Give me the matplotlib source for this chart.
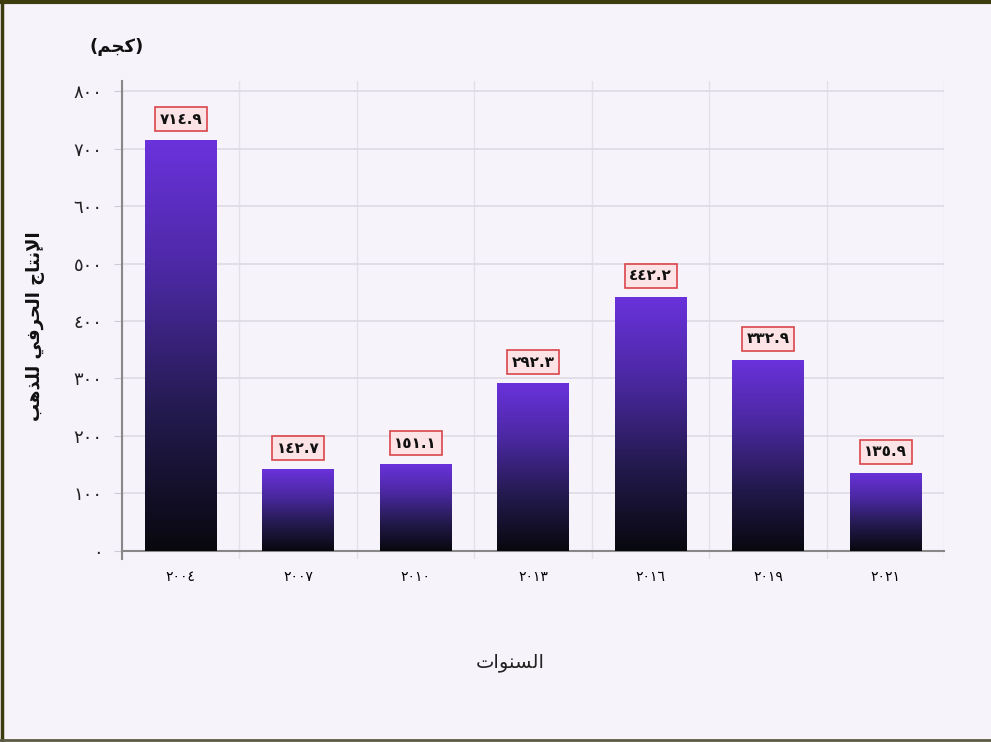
import numpy as np
import matplotlib
matplotlib.use("Agg")
import matplotlib.pyplot as plt
from matplotlib.colors import LinearSegmentedColormap
from matplotlib.lines import Line2D

# data
years = ["2004", "2007", "2010", "2013", "2016", "2019", "2021"]
values = [714.9, 142.7, 151.1, 292.3, 442.2, 332.9, 135.9]
yticks = [0, 100, 200, 300, 400, 500, 600, 700, 800]
xlabel_text = "السنوات"
ylabel_text = "الإنتاج الحرفي للذهب"
unit_text = "(كجم)"

# arabic-indic digits
DIG = str.maketrans("0123456789", "٠١٢٣٤٥٦٧٨٩")
def ar_num(s):
    return str(s).translate(DIG)

# minimal arabic shaping (presentation forms) + visual order
FORMS = {
    "ا": (0xFE8D, 0xFE8E), "إ": (0xFE87, 0xFE88), "و": (0xFEED, 0xFEEE),
    "ر": (0xFEAD, 0xFEAE), "ذ": (0xFEAB, 0xFEAC),
    "ب": (0xFE8F, 0xFE90, 0xFE91, 0xFE92), "ت": (0xFE95, 0xFE96, 0xFE97, 0xFE98),
    "ج": (0xFE9D, 0xFE9E, 0xFE9F, 0xFEA0), "ح": (0xFEA1, 0xFEA2, 0xFEA3, 0xFEA4),
    "س": (0xFEB1, 0xFEB2, 0xFEB3, 0xFEB4), "ف": (0xFED1, 0xFED2, 0xFED3, 0xFED4),
    "ك": (0xFED9, 0xFEDA, 0xFEDB, 0xFEDC), "ل": (0xFEDD, 0xFEDE, 0xFEDF, 0xFEE0),
    "م": (0xFEE1, 0xFEE2, 0xFEE3, 0xFEE4), "ن": (0xFEE5, 0xFEE6, 0xFEE7, 0xFEE8),
    "ه": (0xFEE9, 0xFEEA, 0xFEEB, 0xFEEC), "ي": (0xFEF1, 0xFEF2, 0xFEF3, 0xFEF4),
}
LAMALEF = {"ا": (0xFEFB, 0xFEFC), "إ": (0xFEF9, 0xFEFA)}

def shape(text):
    chars = list(text)
    out = []
    i = 0
    while i < len(chars):
        c = chars[i]
        if c not in FORMS:
            out.append(c)
            i += 1
            continue
        prev = chars[i - 1] if i > 0 else None
        join_prev = prev in FORMS and len(FORMS[prev]) == 4
        if c == "ل" and i + 1 < len(chars) and chars[i + 1] in LAMALEF:
            f = LAMALEF[chars[i + 1]]
            out.append(chr(f[1] if join_prev else f[0]))
            i += 2
            continue
        nxt = chars[i + 1] if i + 1 < len(chars) else None
        join_next = len(FORMS[c]) == 4 and nxt in FORMS
        f = FORMS[c]
        if join_prev and join_next:
            g = f[3]
        elif join_prev:
            g = f[1]
        elif join_next:
            g = f[2]
        else:
            g = f[0]
        out.append(chr(g))
        i += 1
    vis = out[::-1]
    mirror = {"(": ")", ")": "("}
    return "".join(mirror.get(ch, ch) for ch in vis)

bg = "#f7f3fb"
fig = plt.figure(figsize=(9.91, 7.42), dpi=100, facecolor=bg)
ax = fig.add_axes([0.123, 0.246, 0.83, 0.645])
ax.set_facecolor(bg)

x = np.arange(len(years))
bars = ax.bar(x, values, width=0.61, color="none", zorder=3)

cmap = LinearSegmentedColormap.from_list("g", ["#08080e", "#231a4e", "#4a28a0", "#6a32dc"])
grad = np.linspace(0, 1, 256).reshape(-1, 1)
for b in bars:
    x0, w, h = b.get_x(), b.get_width(), b.get_height()
    im = ax.imshow(grad, cmap=cmap, origin="lower", aspect="auto",
                   extent=[x0, x0 + w, 0, h], zorder=3)
    im.set_clip_path(b)

for xi, v in zip(x, values):
    ax.annotate(ar_num(f"{v:.1f}"), (xi, v), xytext=(0, 15), textcoords="offset points",
                ha="center", va="center", fontsize=11, fontweight="bold", color="#111111",
                bbox=dict(boxstyle="square,pad=0.3", fc="#fbe3e6", ec="#d9464a", lw=1.2),
                zorder=5)

ax.set_xlim(-0.5, len(years) - 0.5)
ax.set_ylim(-15, 818)
ax.set_yticks(yticks)
ax.set_yticklabels([ar_num(t) for t in yticks], fontsize=13, color="#222222")
ax.set_xticks(x)
ax.set_xticklabels([ar_num(y) for y in years], fontsize=13, color="#222222")
ax.set_xticks(np.arange(-0.5, len(years)), minor=True)
ax.tick_params(axis="x", which="major", length=0, pad=14)
ax.tick_params(axis="x", which="minor", length=0)
ax.tick_params(axis="y", length=6, color="#cfcad6", pad=8)

ax.grid(True, axis="y", color="#dedae3", lw=1.2, zorder=0)
ax.grid(True, axis="x", which="minor", color="#e4e0e8", lw=1.0, zorder=0)

for s in ["top", "right"]:
    ax.spines[s].set_visible(False)
ax.spines["bottom"].set_position(("data", 0))
ax.spines["bottom"].set_color("#888888")
ax.spines["bottom"].set_linewidth(1.5)
ax.spines["left"].set_color("#888888")
ax.spines["left"].set_linewidth(1.5)

fig.text(0.036, 0.56, shape(ylabel_text), rotation=90, ha="center", va="center",
         fontsize=13, fontweight="bold", color="#111111")
fig.text(0.118, 0.937, shape(unit_text), ha="center", va="center",
         fontsize=13, fontweight="bold", color="#111111")
fig.text(0.515, 0.107, shape(xlabel_text), ha="center", va="center",
         fontsize=14, color="#222222")

# frame around the picture
fig.add_artist(Line2D([0, 1], [0.997, 0.997], transform=fig.transFigure, color="#3c3c0e", lw=3))
fig.add_artist(Line2D([0.002, 0.002], [0, 1], transform=fig.transFigure, color="#3c3c0e", lw=2.5))
fig.add_artist(Line2D([0, 1], [0.003, 0.003], transform=fig.transFigure, color="#5c5c44", lw=2))

fig.savefig("out.png", dpi=100, facecolor=bg)
